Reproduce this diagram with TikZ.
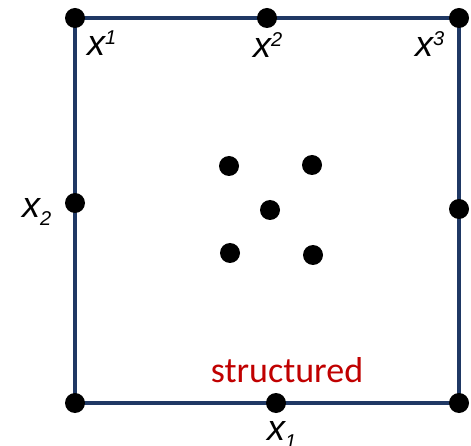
\documentclass[tikz,border=0pt]{standalone}
\usepackage{fontspec}
\newfontfamily\labfont{Liberation Sans}
\newfontfamily\strfont{Carlito}
\definecolor{navy}{HTML}{1F3864}
\definecolor{dred}{HTML}{C00000}
\newcommand{\lbl}[3]{{\labfont\itshape\fontsize{36}{38}\selectfont x\raisebox{#1}{\fontsize{20}{20}\selectfont #2}#3}}
\begin{document}
\begin{tikzpicture}[x=1pt,y=-1pt,
  dot/.style={circle,fill=black,minimum size=20pt,inner sep=0pt},
  edge/.style={draw=navy,line width=4pt},
  lab/.style={inner sep=0pt,anchor=base west}]
\useasboundingbox (0,0) rectangle (471,446);
\coordinate (tl) at (75,18);
\coordinate (tm) at (267,18);
\coordinate (tr) at (459,18);
\coordinate (ml) at (75,203);
\coordinate (mr) at (459,209);
\coordinate (bl) at (75,403);
\coordinate (bm) at (276,403);
\coordinate (br) at (459,403);
\draw[edge] (tl) -- (tm) -- (tr) -- (mr) -- (br) -- (bm) -- (bl) -- (ml) -- cycle;
\foreach \n in {tl,tm,tr,ml,mr,bl,bm,br} \node[dot] (d\n) at (\n) {};
\node[dot] (c1) at (229,166) {};
\node[dot] (c2) at (312,165) {};
\node[dot] (c3) at (270,210) {};
\node[dot] (c4) at (230,253) {};
\node[dot] (c5) at (313,255) {};
\node[lab] (l1) at (87,56) {\lbl{11pt}{1}{}};
\node[lab] (l2) at (253,58) {\lbl{11pt}{2}{}};
\node[lab] (l3) at (415,57) {\lbl{11pt}{3}{}};
\node[lab] (l4) at (22,218) {{\labfont\itshape\fontsize{36}{38}\selectfont x\raisebox{-8pt}{\fontsize{20}{20}\selectfont 2}}};
\node[lab] (l5) at (267,440) {{\labfont\itshape\fontsize{36}{38}\selectfont x\raisebox{-8pt}{\fontsize{20}{20}\selectfont 1}}};
\node[inner sep=0pt,anchor=base] (st) at (287,382) {\strfont\fontsize{36}{38}\selectfont\color{dred}structured};
\end{tikzpicture}
\end{document}
